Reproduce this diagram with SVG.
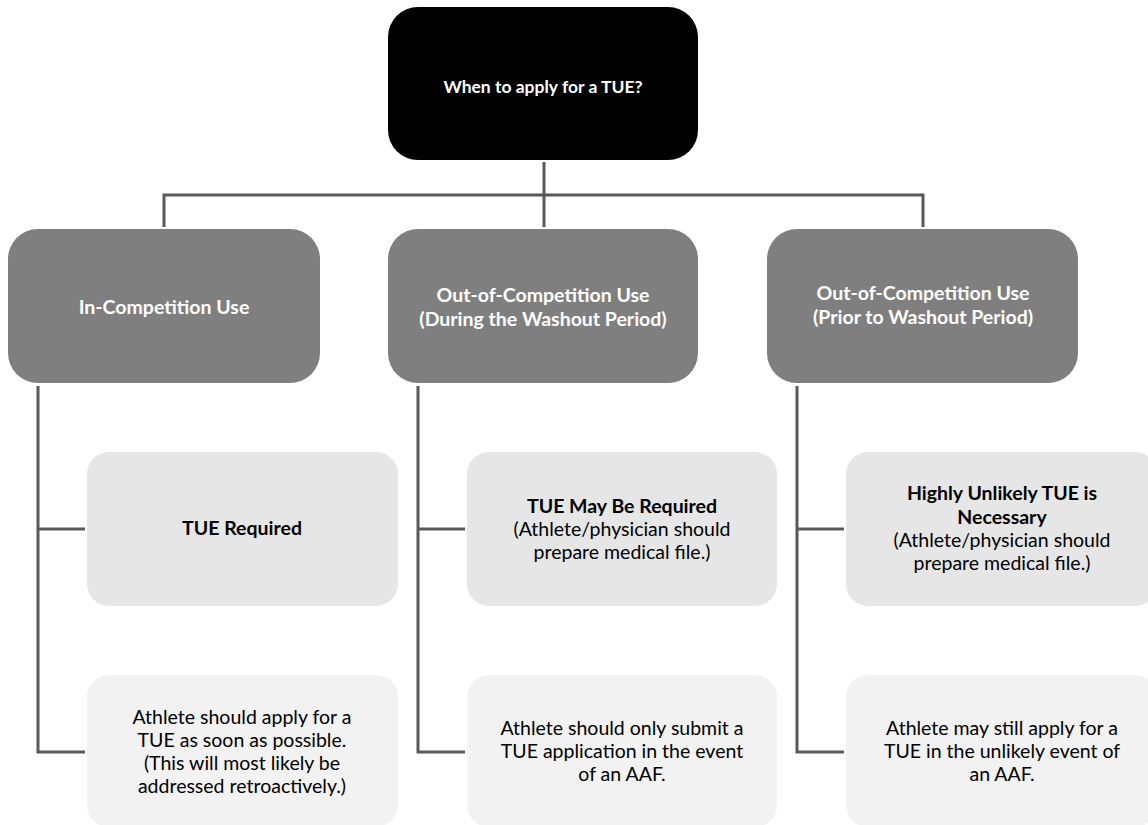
<svg xmlns="http://www.w3.org/2000/svg" width="1148" height="825" viewBox="0 0 1148 825">
<style>
text{font-family:Lato,"Liberation Sans",sans-serif;text-anchor:middle;font-size:19.5px}
.t{font-size:17.5px}
.b{font-weight:bold}
.w{fill:#ffffff}
.k{fill:#000000}
.l2{fill:#7f7f7f}
.l3{fill:#e6e6e6}
.l4{fill:#f2f2f2}
.c{fill:none;stroke:#595959;stroke-width:3}
</style>
<rect width="1148" height="825" fill="#ffffff"/>
<g id="connectors">
<path class="c" d="M544 162V227M164 227V195H923V227"/>
<path class="c" d="M38 386V752H85M38 529H85"/>
<path class="c" d="M418 386V752H465M418 529H465"/>
<path class="c" d="M797 386V752H844M797 529H844"/>
</g>
<g id="root">
<rect x="388" y="7" width="310" height="153" rx="30" fill="#000000"/>
<text class="t b w" x="543" y="93">When to apply for a TUE?</text>
</g>
<g id="in-competition">
<rect class="l2" x="8" y="229" width="312" height="154" rx="30"/>
<text class="b w" x="164" y="314">In-Competition Use</text>
</g>
<g id="ooc-during">
<rect class="l2" x="388" y="229" width="310" height="154" rx="30"/>
<text class="b w" x="543" y="302">Out-of-Competition Use</text>
<text class="b w" x="543" y="326">(During the Washout Period)</text>
</g>
<g id="ooc-prior">
<rect class="l2" x="767" y="229" width="311" height="154" rx="30"/>
<text class="b w" x="923" y="300">Out-of-Competition Use</text>
<text class="b w" x="923" y="324">(Prior to Washout Period)</text>
</g>
<g id="tue-required">
<rect class="l3" x="87" y="452" width="311" height="154" rx="22"/>
<text class="b k" x="242" y="535">TUE Required</text>
</g>
<g id="tue-may">
<rect class="l3" x="467" y="452" width="310" height="154" rx="22"/>
<text class="b k" x="622" y="513">TUE May Be Required</text>
<text class="k" x="622" y="536">(Athlete/physician should</text>
<text class="k" x="622" y="559">prepare medical file.)</text>
</g>
<g id="tue-unlikely">
<rect class="l3" x="846" y="452" width="311" height="154" rx="22"/>
<text class="b k" x="1002" y="500">Highly Unlikely TUE is</text>
<text class="b k" x="1002" y="524">Necessary</text>
<text class="k" x="1002" y="547">(Athlete/physician should</text>
<text class="k" x="1002" y="570">prepare medical file.)</text>
</g>
<g id="apply-asap">
<rect class="l4" x="87" y="675" width="311" height="152" rx="22"/>
<text class="k" x="242" y="724">Athlete should apply for a</text>
<text class="k" x="242" y="747">TUE as soon as possible.</text>
<text class="k" x="242" y="770">(This will most likely be</text>
<text class="k" x="242" y="793">addressed retroactively.)</text>
</g>
<g id="submit-aaf">
<rect class="l4" x="467" y="675" width="310" height="152" rx="22"/>
<text class="k" x="622" y="735">Athlete should only submit a</text>
<text class="k" x="622" y="758">TUE application in the event</text>
<text class="k" x="622" y="781">of an AAF.</text>
</g>
<g id="may-still-apply">
<rect class="l4" x="846" y="675" width="311" height="152" rx="22"/>
<text class="k" x="1002" y="735">Athlete may still apply for a</text>
<text class="k" x="1002" y="758">TUE in the unlikely event of</text>
<text class="k" x="1002" y="781">an AAF.</text>
</g>
</svg>
